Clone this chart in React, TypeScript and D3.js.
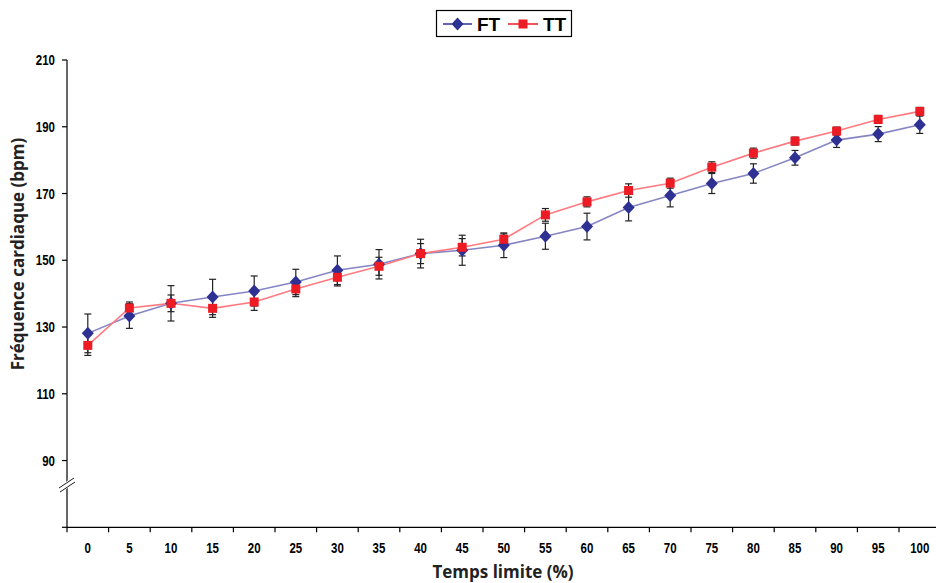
import React from "react";
import * as d3 from "d3";

const categories = ["0","5","10","15","20","25","30","35","40","45","50","55","60","65","70","75","80","85","90","95","100"];
const ftValues = [128.1,133.3,137.1,139.0,140.8,143.5,147.0,148.8,152.0,153.0,154.5,157.2,160.1,165.8,169.4,173.0,176.0,180.7,186.0,187.8,190.6];
const ttValues = [124.5,135.7,137.1,135.6,137.5,141.4,144.9,148.2,152.0,153.9,156.3,163.6,167.5,170.9,173.1,177.9,182.1,185.7,188.7,192.2,194.6];
const ftErrors = [5.8,3.7,5.3,5.3,4.5,3.8,4.3,4.4,4.3,4.5,3.7,3.9,4.0,4.0,3.4,3.0,2.9,2.2,2.2,2.25,2.6];
const ttErrors = [3.0,1.8,2.5,2.7,2.5,2.3,2.6,2.7,3.0,2.6,1.6,1.9,1.5,2.0,1.5,1.6,1.5,1.2,1.2,1.2,1.2];
const yTicks = [90,110,130,150,170,190,210];
const seriesNames = ["FT","TT"];

const W = 936, H = 583;
const axisFont = "'Liberation Sans Narrow', 'Arial Narrow', 'Liberation Sans', Arial, sans-serif";
const titleFont = "'Open Sans', 'Liberation Sans', Arial, sans-serif";

export default function App() {
  const x = d3.scaleBand<string>().domain(categories).range([67, 940.6]).padding(0);
  const y = d3.scaleLinear().domain([70, 210]).range([527.3, 60]);
  const cx = (c: string) => (x(c) as number) + x.bandwidth() / 2;

  const line = d3.line<number>().x((_, i) => cx(categories[i])).y((v) => y(v));

  const series = [
    { name: seriesNames[0], vals: ftValues, errs: ftErrors, line: "#8585c4", mark: "#2e3192", shape: "diamond" },
    { name: seriesNames[1], vals: ttValues, errs: ttErrors, line: "#ff7a80", mark: "#ed1c24", shape: "square" },
  ];

  const marker = (shape: string, px: number, py: number, color: string, key: any) =>
    shape === "diamond" ? (
      <path key={key} d={`M${px},${py - 6.5}L${px + 6},${py}L${px},${py + 6.5}L${px - 6},${py}Z`} fill={color} />
    ) : (
      <rect key={key} x={px - 4.5} y={py - 4.5} width={9} height={9} fill={color} />
    );

  const x0 = 67, yBottom = 527.3;
  const breakY = 486;

  return (
    <svg width={W} height={H} style={{ position: "absolute", left: 0, top: 0, background: "#fff" }}>
      {/* y axis */}
      <line x1={x0} y1={60} x2={x0} y2={yBottom} stroke="#000" strokeWidth={1.2} />
      {yTicks.map((t) => (
        <g key={t}>
          <line x1={x0 - 5} x2={x0} y1={y(t)} y2={y(t)} stroke="#000" strokeWidth={1.2} />
          <text transform={`translate(55,${y(t) + 5}) scale(0.82,1)`} textAnchor="end" fontFamily={axisFont} fontWeight="bold" fontSize={14} fill="#000">{t}</text>
        </g>
      ))}
      <line x1={x0 - 5} x2={x0} y1={yBottom} y2={yBottom} stroke="#000" strokeWidth={1.2} />
      {/* axis break */}
      <rect x={x0 - 8} y={breakY - 4} width={16} height={6} fill="#fff" transform={`rotate(-35 ${x0} ${breakY})`} />
      <line x1={x0 - 8} y1={breakY + 2} x2={x0 + 7} y2={breakY - 8} stroke="#000" strokeWidth={0.9} />
      <line x1={x0 - 7} y1={breakY + 6} x2={x0 + 8} y2={breakY - 4} stroke="#000" strokeWidth={0.9} />

      {/* x axis */}
      <line x1={x0} y1={yBottom} x2={W} y2={yBottom} stroke="#000" strokeWidth={1.2} />
      {categories.map((c, i) => (
        <line key={"xt" + i} x1={x(c) as number} x2={x(c) as number} y1={yBottom} y2={yBottom + 5} stroke="#000" strokeWidth={1.2} />
      ))}
      {categories.map((c) => (
        <text key={"xl" + c} transform={`translate(${cx(c)},553) scale(0.82,1)`} textAnchor="middle" fontFamily={axisFont} fontWeight="bold" fontSize={14} fill="#000">{c}</text>
      ))}

      {/* titles */}
      <text x={503} y={578} textAnchor="middle" fontFamily={titleFont} fontWeight="bold" fontSize={17} fill="#222">Temps limite (%)</text>
      <text transform="translate(24,254) rotate(-90)" textAnchor="middle" fontFamily={titleFont} fontWeight="bold" fontSize={17} fill="#222">Fréquence cardiaque (bpm)</text>

      {/* lines */}
      {series.map((s) => (
        <path key={"l" + s.name} d={line(s.vals) as string} fill="none" stroke={s.line} strokeWidth={1.6} />
      ))}
      {/* error bars */}
      {series.map((s) =>
        s.vals.map((v, i) => {
          const px = cx(categories[i]);
          const top = y(v + s.errs[i]);
          const bot = y(v - s.errs[i]);
          return (
            <g key={"e" + s.name + i} stroke="#222" strokeWidth={1.2}>
              <line x1={px} x2={px} y1={top} y2={bot} />
              <line x1={px - 3.5} x2={px + 3.5} y1={top} y2={top} />
              <line x1={px - 3.5} x2={px + 3.5} y1={bot} y2={bot} />
            </g>
          );
        })
      )}
      {/* markers */}
      {series.map((s) => s.vals.map((v, i) => marker(s.shape, cx(categories[i]), y(v), s.mark, "m" + s.name + i)))}

      {/* legend */}
      <rect x={436.5} y={10.5} width={135} height={26} fill="#fff" stroke="#000" strokeWidth={1.2} />
      <line x1={443} x2={472} y1={24} y2={24} stroke={series[0].mark} strokeWidth={1.5} />
      {marker("diamond", 457.5, 24, series[0].mark, "lg0")}
      <text x={477} y={31} fontFamily="'Liberation Sans', Arial, sans-serif" fontWeight="bold" fontSize={19} fill="#000">{seriesNames[0]}</text>
      <line x1={508} x2={538} y1={24} y2={24} stroke={series[1].mark} strokeWidth={1.5} />
      {marker("square", 523, 24, series[1].mark, "lg1")}
      <text x={543} y={31} fontFamily="'Liberation Sans', Arial, sans-serif" fontWeight="bold" fontSize={19} fill="#000">{seriesNames[1]}</text>
    </svg>
  );
}
